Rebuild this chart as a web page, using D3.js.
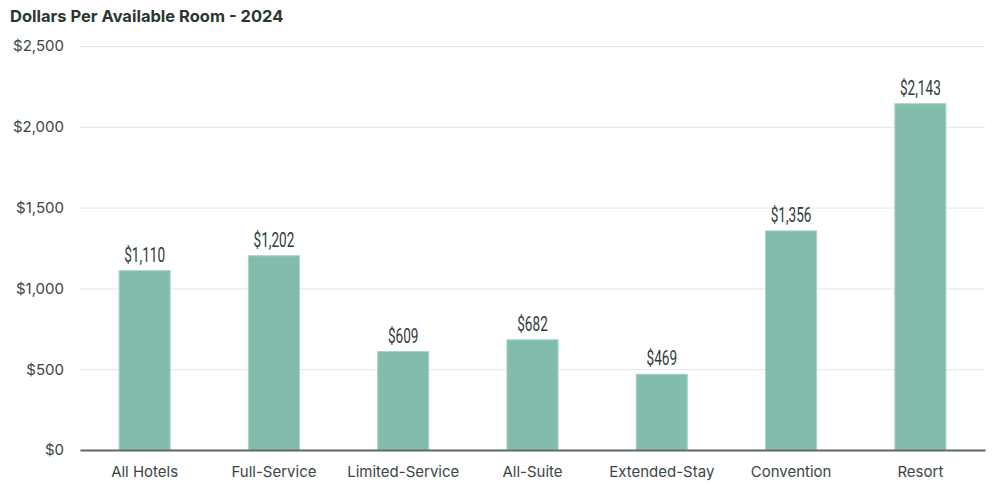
<!DOCTYPE html>
<html>
<head>
<meta charset="utf-8">
<script src="https://cdn.jsdelivr.net/npm/d3@7"></script>
<style>
    body { margin: 0; background: #fff; }
    svg { display: block; }
    .title { font-family: Inter, "Noto Sans", sans-serif; font-weight: 700; font-size: 16.5px; fill: #2a3634; }
    .y-axis text, .x-axis text { font-family: Inter, "Noto Sans", sans-serif; font-size: 15px; fill: #3a4644; }
    .val { font-family: Roboto, sans-serif; font-weight: 400; font-size: 20px; fill: #2e3b39; }
</style>
</head>
<body>
<svg id="chart"></svg>
<script>
// категории и значения (долл. на доступный номер)
const categories = ["All Hotels", "Full-Service", "Limited-Service", "All-Suite", "Extended-Stay", "Convention", "Resort"];
const values = [1110, 1202, 609, 682, 469, 1356, 2143];
const yTicks = [0, 500, 1000, 1500, 2000, 2500];

let width = 1000;
let height = 494;
let marginLeft = 80;
let marginRight = 15;
let marginTop = 46;
let marginBottom = 44;

let svg = d3.select("#chart")
    .attr("width", width)
    .attr("height", height);

svg.append("text")
    .attr("class", "title")
    .attr("x", 10)
    .attr("y", 22)
    .text("Dollars Per Available Room - 2024");

let scaleX = d3.scaleBand()
    .domain(categories)
    .range([marginLeft, width - marginRight])
    .padding(0);

let scaleY = d3.scaleLinear()
    .domain([0, 2500])
    .range([height - marginBottom, marginTop]);

let fmt = d3.format(",");

// сетка + подписи оси OY
let axisY = d3.axisLeft(scaleY)
    .tickValues(yTicks)
    .tickSize(0)
    .tickPadding(16)
    .tickFormat(d => "$" + fmt(d));

let gy = svg.append("g")
    .attr("class", "y-axis")
    .attr("transform", `translate(${marginLeft}, 0)`)
    .call(axisY);
gy.select(".domain").remove();
gy.selectAll("g.tick")
    .append("line")
    .attr("x1", 0)
    .attr("x2", width - marginRight - marginLeft)
    .attr("stroke", "#e2e6e5")
    .attr("stroke-width", 1);

// столбцы
let barW = scaleX.bandwidth() * 0.395;
svg.selectAll(".bar")
    .data(values)
    .enter()
    .append("rect")
    .attr("class", "bar")
    .attr("x", (d, i) => scaleX(categories[i]) + scaleX.bandwidth() / 2 - barW / 2)
    .attr("y", d => scaleY(d))
    .attr("width", barW)
    .attr("height", d => scaleY(0) - scaleY(d))
    .attr("fill", "#82bcad")
    .attr("stroke", "#a9d3c7")
    .attr("stroke-width", 1);

// подписи значений (узкий шрифт имитируем сжатием по горизонтали)
svg.selectAll(".val")
    .data(values)
    .enter()
    .append("text")
    .attr("class", "val")
    .attr("text-anchor", "middle")
    .attr("transform", (d, i) =>
        `translate(${scaleX(categories[i]) + scaleX.bandwidth() / 2}, ${scaleY(d) - 9}) scale(0.68, 1)`)
    .text(d => "$" + fmt(d));

// ось OX
let axisX = d3.axisBottom(scaleX)
    .tickSize(0)
    .tickPadding(16);
let gx = svg.append("g")
    .attr("class", "x-axis")
    .attr("transform", `translate(0, ${scaleY(0)})`)
    .call(axisX);
gx.select(".domain")
    .attr("stroke", "#5d6866")
    .attr("stroke-width", 2);
</script>
</body>
</html>
